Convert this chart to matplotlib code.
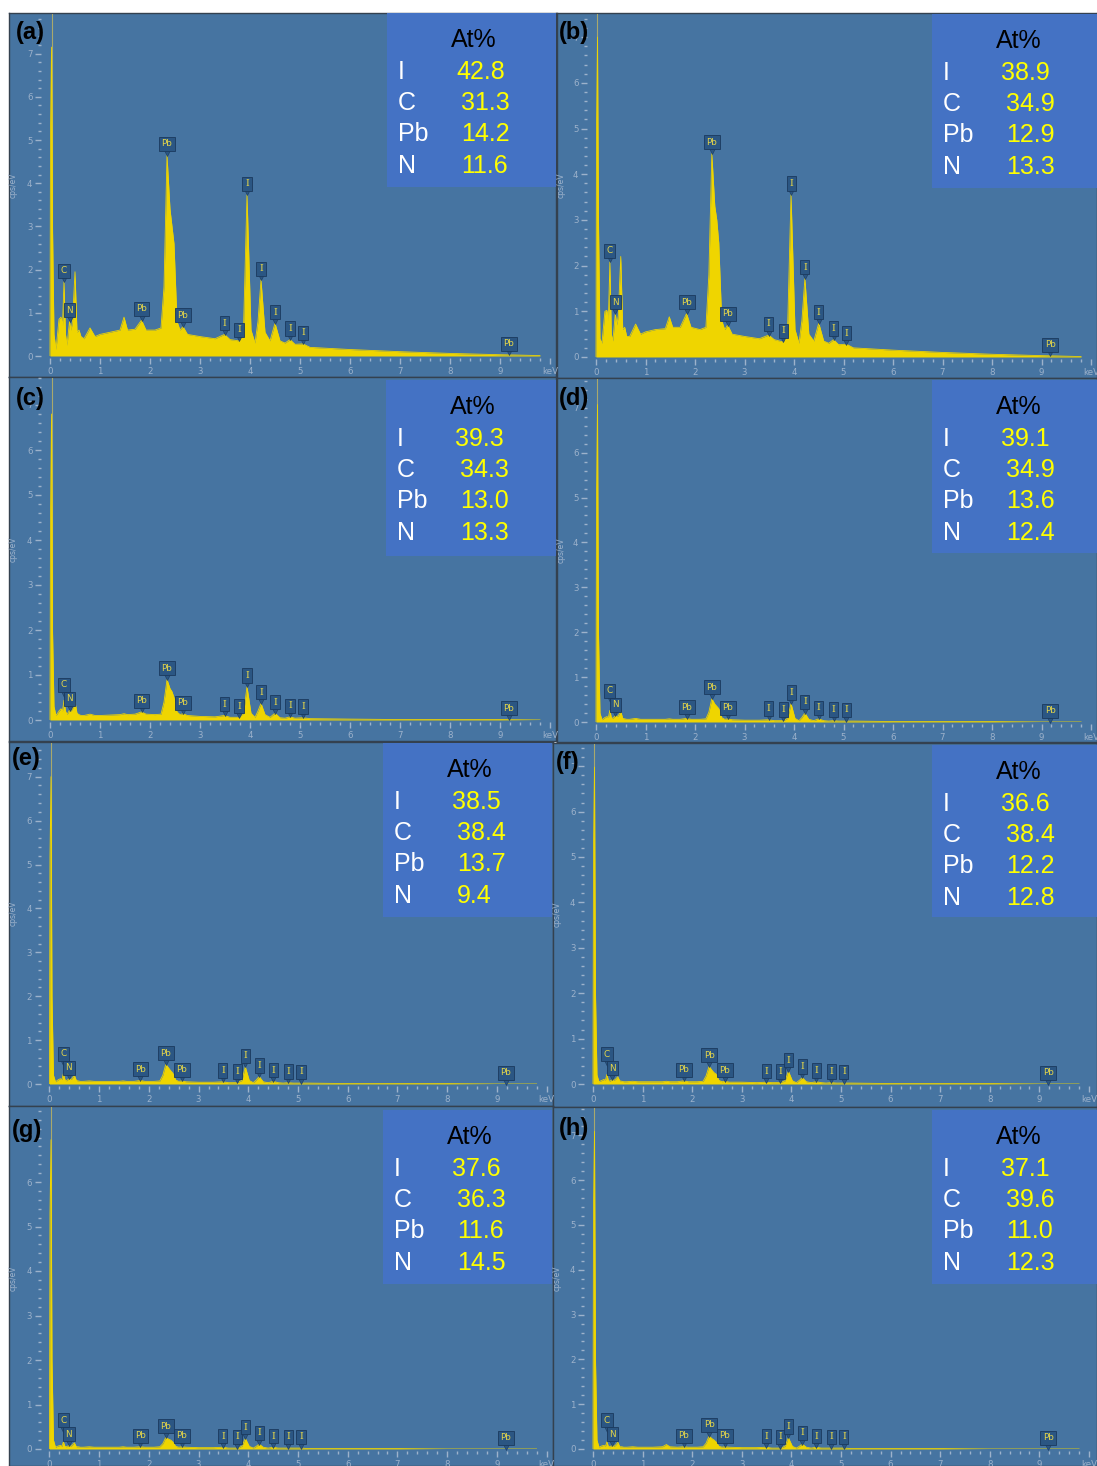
import numpy as np
import matplotlib
matplotlib.use("Agg")
import matplotlib.pyplot as plt
from matplotlib import transforms
from matplotlib.ticker import MultipleLocator

# ---------------- data ----------------
energy_keV = [0.00, 0.01, 0.03, 0.05, 0.08, 0.12, 0.18, 0.22, 0.25, 0.28, 0.31,
              0.34, 0.39, 0.42, 0.45, 0.50, 0.54, 0.58, 0.62, 0.68, 0.80, 0.90,
              1.00, 1.20, 1.40, 1.48, 1.55, 1.70, 1.83, 1.92, 2.10, 2.22, 2.28,
              2.34, 2.40, 2.44, 2.48, 2.54, 2.60, 2.66, 2.75, 3.00, 3.30, 3.49,
              3.60, 3.78, 3.87, 3.94, 4.02, 4.10, 4.16, 4.22, 4.30, 4.40, 4.50,
              4.60, 4.70, 4.80, 4.90, 5.06, 5.20, 6.00, 7.00, 8.00, 9.00, 9.80]

cps_a = [0.00, 5.20, 7.15, 3.00, 0.50, 0.15, 0.85, 0.90, 0.70, 1.72, 0.50,
         0.25, 0.80, 0.60, 0.80, 1.95, 0.55, 0.60, 0.45, 0.40, 0.65, 0.45,
         0.50, 0.55, 0.60, 0.90, 0.60, 0.62, 0.83, 0.60, 0.60, 0.65, 1.60,
         4.65, 3.40, 3.00, 2.60, 0.80, 0.60, 0.68, 0.50, 0.45, 0.40, 0.50,
         0.38, 0.35, 0.60, 3.73, 0.60, 0.30, 0.80, 1.76, 0.55, 0.35, 0.76,
         0.35, 0.30, 0.38, 0.27, 0.28, 0.20, 0.15, 0.10, 0.06, 0.03, 0.01]
cps_b = [0.00, 5.00, 7.00, 3.00, 0.40, 0.30, 1.00, 1.02, 0.80, 2.08, 0.50,
         0.35, 0.95, 0.70, 0.90, 2.20, 0.60, 0.65, 0.45, 0.45, 0.72, 0.50,
         0.55, 0.60, 0.62, 0.88, 0.65, 0.65, 0.95, 0.65, 0.60, 0.65, 1.80,
         4.45, 3.30, 3.00, 2.50, 0.80, 0.60, 0.70, 0.50, 0.45, 0.40, 0.48,
         0.38, 0.33, 0.60, 3.55, 0.60, 0.30, 0.80, 1.72, 0.50, 0.35, 0.74,
         0.35, 0.30, 0.38, 0.27, 0.28, 0.20, 0.15, 0.10, 0.06, 0.03, 0.01]
cps_c = [0.00, 4.50, 6.80, 2.00, 0.30, 0.10, 0.20, 0.25, 0.20, 0.44, 0.20,
         0.12, 0.22, 0.20, 0.25, 0.41, 0.15, 0.12, 0.10, 0.10, 0.13, 0.10,
         0.10, 0.11, 0.12, 0.14, 0.12, 0.13, 0.18, 0.13, 0.12, 0.13, 0.40,
         0.90, 0.70, 0.63, 0.50, 0.18, 0.12, 0.14, 0.10, 0.08, 0.07, 0.10,
         0.06, 0.06, 0.15, 0.74, 0.15, 0.06, 0.20, 0.37, 0.12, 0.06, 0.15,
         0.05, 0.04, 0.07, 0.04, 0.05, 0.03, 0.02, 0.01, 0.01, 0.01, 0.00]
cps_d = [0.00, 5.00, 7.07, 2.00, 0.20, 0.05, 0.10, 0.12, 0.10, 0.26, 0.10,
         0.08, 0.14, 0.12, 0.14, 0.24, 0.08, 0.07, 0.06, 0.06, 0.08, 0.06,
         0.06, 0.06, 0.06, 0.07, 0.06, 0.06, 0.08, 0.06, 0.06, 0.07, 0.22,
         0.52, 0.40, 0.35, 0.30, 0.10, 0.06, 0.07, 0.05, 0.04, 0.04, 0.05,
         0.03, 0.03, 0.08, 0.41, 0.08, 0.03, 0.10, 0.20, 0.06, 0.03, 0.07,
         0.03, 0.02, 0.03, 0.02, 0.02, 0.02, 0.01, 0.01, 0.01, 0.00, 0.00]
cps_e = [0.00, 5.20, 7.00, 2.00, 0.20, 0.05, 0.10, 0.12, 0.10, 0.24, 0.10,
         0.07, 0.12, 0.10, 0.12, 0.20, 0.08, 0.07, 0.06, 0.06, 0.07, 0.06,
         0.06, 0.06, 0.06, 0.07, 0.06, 0.06, 0.08, 0.06, 0.06, 0.07, 0.20,
         0.45, 0.36, 0.30, 0.25, 0.09, 0.06, 0.07, 0.05, 0.04, 0.04, 0.05,
         0.03, 0.03, 0.08, 0.39, 0.08, 0.03, 0.09, 0.17, 0.05, 0.03, 0.06,
         0.03, 0.02, 0.03, 0.02, 0.02, 0.02, 0.01, 0.01, 0.01, 0.00, 0.00]
cps_f = [0.00, 5.20, 6.98, 2.00, 0.20, 0.05, 0.08, 0.10, 0.08, 0.21, 0.08,
         0.06, 0.10, 0.08, 0.10, 0.16, 0.07, 0.06, 0.05, 0.05, 0.06, 0.05,
         0.05, 0.05, 0.05, 0.06, 0.05, 0.05, 0.07, 0.05, 0.05, 0.06, 0.18,
         0.39, 0.30, 0.25, 0.22, 0.08, 0.05, 0.06, 0.04, 0.04, 0.03, 0.04,
         0.03, 0.03, 0.07, 0.28, 0.07, 0.03, 0.08, 0.14, 0.05, 0.03, 0.05,
         0.03, 0.02, 0.03, 0.02, 0.02, 0.02, 0.01, 0.01, 0.01, 0.00, 0.00]
cps_g = [0.00, 5.30, 6.95, 2.00, 0.20, 0.04, 0.07, 0.08, 0.06, 0.16, 0.06,
         0.05, 0.08, 0.06, 0.08, 0.14, 0.05, 0.05, 0.04, 0.04, 0.05, 0.04,
         0.04, 0.04, 0.04, 0.05, 0.04, 0.04, 0.05, 0.04, 0.04, 0.05, 0.12,
         0.26, 0.22, 0.20, 0.16, 0.06, 0.04, 0.05, 0.04, 0.03, 0.03, 0.04,
         0.02, 0.02, 0.06, 0.24, 0.06, 0.02, 0.06, 0.11, 0.04, 0.02, 0.04,
         0.02, 0.02, 0.02, 0.02, 0.02, 0.01, 0.01, 0.01, 0.00, 0.00, 0.00]
cps_h = [0.00, 5.40, 7.09, 2.00, 0.20, 0.04, 0.07, 0.08, 0.06, 0.16, 0.06,
         0.05, 0.08, 0.06, 0.08, 0.15, 0.05, 0.05, 0.04, 0.04, 0.05, 0.04,
         0.04, 0.04, 0.05, 0.10, 0.05, 0.04, 0.05, 0.04, 0.04, 0.05, 0.13,
         0.29, 0.23, 0.20, 0.16, 0.06, 0.04, 0.05, 0.04, 0.03, 0.03, 0.04,
         0.02, 0.02, 0.06, 0.25, 0.06, 0.02, 0.06, 0.11, 0.04, 0.02, 0.04,
         0.02, 0.02, 0.02, 0.02, 0.02, 0.01, 0.01, 0.01, 0.00, 0.00, 0.00]

panel_names = ["(a)", "(b)", "(c)", "(d)", "(e)", "(f)", "(g)", "(h)"]
elements = ["I", "C", "Pb", "N"]
at_pct_a = [42.8, 31.3, 14.2, 11.6]
at_pct_b = [38.9, 34.9, 12.9, 13.3]
at_pct_c = [39.3, 34.3, 13.0, 13.3]
at_pct_d = [39.1, 34.9, 13.6, 12.4]
at_pct_e = [38.5, 38.4, 13.7, 9.4]
at_pct_f = [36.6, 38.4, 12.2, 12.8]
at_pct_g = [37.6, 36.3, 11.6, 14.5]
at_pct_h = [37.1, 39.6, 11.0, 12.3]

tag_keV = [0.28, 0.39, 1.83, 2.34, 2.66, 3.49, 3.78, 3.94, 4.22, 4.50, 4.80, 5.06, 9.18]
tag_el = ["C", "N", "Pb", "Pb", "Pb", "I", "I", "I", "I", "I", "I", "I", "Pb"]

x_ticks = [0, 1, 2, 3, 4, 5, 6, 7, 8, 9, 10]
x_tick_labels = ["0", "1", "2", "3", "4", "5", "6", "7", "8", "9", "keV"]

spectra = [cps_a, cps_b, cps_c, cps_d, cps_e, cps_f, cps_g, cps_h]
at_tables = [at_pct_a, at_pct_b, at_pct_c, at_pct_d, at_pct_e, at_pct_f, at_pct_g, at_pct_h]

# ---------------- layout / style ----------------
W, H = 1097, 1466
fig = plt.figure(figsize=(W / 100, H / 100), dpi=100)
fig.patch.set_facecolor("white")

BG = "#4674A1"
YEL = "#EFD500"
TICK = "#9DB2CB"
BOX = "#4472C4"
TAG_FC = "#2B5683"
TAG_EC = "#1B3A5E"
TAG_TXT = "#E3D54A"

# frame rectangles (left, top, right, bottom) in px
frames = [(9, 13, 556, 377), (557, 13, 1097, 378),
          (9, 377, 556, 741), (557, 378, 1097, 742),
          (9, 742, 553, 1106), (553, 743, 1097, 1107),
          (9, 1106, 553, 1466), (553, 1107, 1097, 1466)]
# origin px for 0 keV, px per keV, px for 0 cps, px per cps/eV
origins = [(50, 50.0, 356, 43.2), (596, 49.5, 357, 45.7),
           (50, 50.0, 720, 45.0), (596, 49.5, 722, 44.9),
           (49.5, 49.7, 1084, 43.9), (593, 49.6, 1084, 45.4),
           (49.5, 49.7, 1449, 44.5), (593, 49.6, 1449, 44.8)]
boxes = [(387, 13, 556, 187), (932, 14, 1097, 188),
         (386, 380, 556, 556), (932, 380, 1097, 553),
         (383, 743, 552, 917), (932, 745, 1097, 917),
         (383, 1110, 552, 1284), (932, 1110, 1097, 1284)]
label_pos = [(16, 32), (559, 32), (16, 398), (559, 398),
             (12, 758), (556, 763), (12, 1130), (559, 1128)]


def px_rect(l, t, r, b):
    return [l / W, 1 - b / H, (r - l) / W, (b - t) / H]


for i in range(8):
    fl, ft, fr, fb = frames[i]
    frame = fig.add_axes(px_rect(fl, ft, fr, fb), zorder=0)
    frame.set_facecolor(BG)
    frame.set_xticks([])
    frame.set_yticks([])
    for s in frame.spines.values():
        s.set_color("#34414F")
        s.set_linewidth(1.0)

    x0, kx, y0, ky = origins[i]
    xmin, xmax = -0.06, 10.04
    l = x0 + xmin * kx
    r = x0 + xmax * kx
    top = ft + 1
    ax = fig.add_axes(px_rect(l, top, r, y0), zorder=1)
    ax.patch.set_visible(False)
    ymax = (y0 - top) / ky
    ax.set_xlim(xmin, xmax)
    ax.set_ylim(0, ymax)

    cps = spectra[i]
    ax.axvline(0.03, color="#A9A96C", lw=0.8, zorder=1)
    ax.fill_between(energy_keV, cps, 0, color=YEL, lw=0, zorder=2)
    ax.plot(energy_keV, cps, color=YEL, lw=0.6, zorder=2)

    ax.set_xticks(x_ticks)
    ax.set_xticklabels(x_tick_labels)
    ax.xaxis.set_minor_locator(MultipleLocator(0.2))
    ax.set_yticks(list(range(0, int(ymax) + 1)))
    ax.yaxis.set_minor_locator(MultipleLocator(0.2))
    for s in ("top", "right"):
        ax.spines[s].set_visible(False)
    ax.spines["left"].set_position(("outward", 4.3))
    ax.spines["bottom"].set_position(("outward", 1.5))
    ax.spines["left"].set_visible(False)
    ax.spines["bottom"].set_visible(False)
    ax.tick_params(which="major", length=4.2, width=1.0, color=TICK,
                   labelcolor=TICK, labelsize=6.2, pad=2)
    ax.tick_params(which="minor", length=2.0, width=1.0, color=TICK)
    ax.set_ylabel("cps/eV", fontsize=5.5, color=TICK)
    ax.yaxis.set_label_coords((fl + 9 - l) / (r - l), 0.5)

    # element tags (C tag lifted above N tag when they would collide)
    off_tri = transforms.offset_copy(ax.transData, fig=fig, y=1.8, units="points")
    tips = [float(np.interp(e, energy_keV, cps)) for e in tag_keV]
    n_tip = tips[tag_el.index("N")]
    c_idx = tag_el.index("C")
    tips[c_idx] = max(tips[c_idx], n_tip + 14.0 / ky)
    for e, el, v in zip(tag_keV, tag_el, tips):
        ax.plot([e], [v], marker="v", ms=3.8, color=TAG_FC, mec=TAG_EC,
                mew=0.4, transform=off_tri, zorder=4, clip_on=False)
        if el == "I":
            fam, fs = "DejaVu Serif", 6.8
        else:
            fam, fs = "DejaVu Sans", 6.4
        ax.annotate(el, xy=(e, v), xytext=(0, 4.8), textcoords="offset points",
                    ha="center", va="bottom", fontsize=fs, color=TAG_TXT,
                    family=fam, zorder=5,
                    bbox=dict(boxstyle="square,pad=0.28", fc=TAG_FC, ec=TAG_EC, lw=0.6))

    # At% box
    bl, bt, br, bb = boxes[i]
    bx = fig.add_axes(px_rect(bl, bt, br, bb), zorder=3)
    bx.set_facecolor(BOX)
    bx.set_xticks([])
    bx.set_yticks([])
    for s in bx.spines.values():
        s.set_visible(False)
    bx.set_xlim(0, br - bl)
    bx.set_ylim(bb - bt, 0)
    bx.text(87, 27, "At%", ha="center", va="center", fontsize=18,
            family="Liberation Sans", color="black")
    row_y = [59, 90, 121, 153]
    val_x = [69, 74, 74, 74]
    for k, (el, val) in enumerate(zip(elements, at_tables[i])):
        bx.text(11, row_y[k], el, ha="left", va="center", fontsize=18,
                family="Liberation Sans", color="white")
        bx.text(val_x[k], row_y[k], f"{val:.1f}", ha="left", va="center",
                fontsize=18, family="Liberation Sans", color="#FFFF00")

    lx, ly = label_pos[i]
    fig.text(lx / W, 1 - ly / H, panel_names[i], ha="left", va="center",
             fontsize=17, fontweight="bold", family="Liberation Sans",
             color="black", zorder=10)

fig.savefig("out.png", dpi=100, facecolor=fig.get_facecolor())
